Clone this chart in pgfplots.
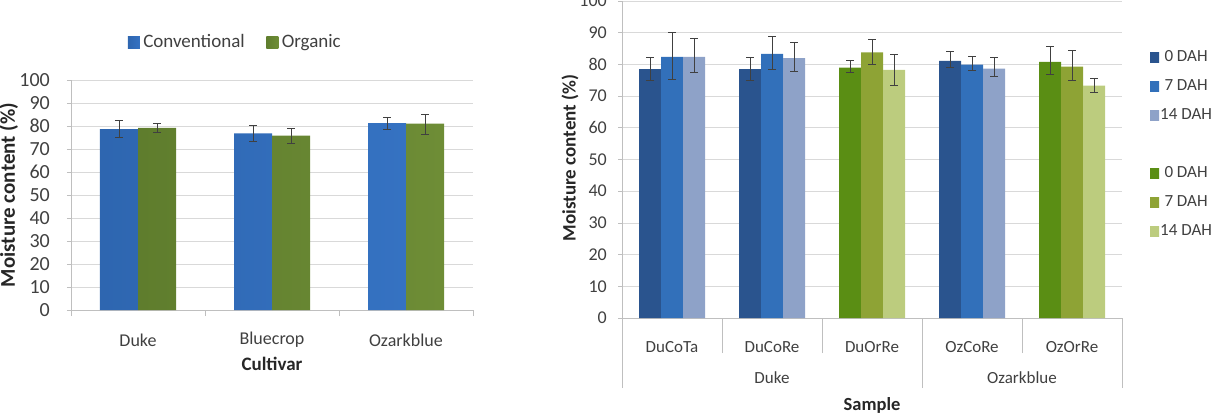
\documentclass[border=0pt]{standalone}
\usepackage{pgfplots}
\pgfplotsset{compat=1.18}
\usepackage{pgfplotstable}
\usepackage{fontspec}
\setmainfont{Carlito}

\definecolor{txt}{HTML}{404040}
\definecolor{axisgray}{HTML}{BFBFBF}
\definecolor{gridgray}{HTML}{D9D9D9}
% left chart
\definecolor{cvL}{HTML}{2E66B0}\definecolor{cvM}{HTML}{4A8DE0}\definecolor{cvR}{HTML}{3572C2}
\definecolor{orL}{HTML}{5F7D2D}\definecolor{orM}{HTML}{86A646}\definecolor{orR}{HTML}{6E8D36}
% right chart
\definecolor{bA}{HTML}{2A548E}\definecolor{bAm}{HTML}{3567A8}
\definecolor{bB}{HTML}{3270BA}\definecolor{bBm}{HTML}{4286D6}
\definecolor{bC}{HTML}{8EA2C8}\definecolor{bCm}{HTML}{AABCDD}
\definecolor{gA}{HTML}{5A8E14}\definecolor{gAm}{HTML}{6EAA1C}
\definecolor{gB}{HTML}{8EA335}\definecolor{gBm}{HTML}{A8BE44}
\definecolor{gC}{HTML}{BCCC7E}\definecolor{gCm}{HTML}{D4E297}

% cultivar, x, mean, error plus, error minus
\pgfplotstableread{
x y ep em
0 78.6 3.7 3.7
1 76.8 3.6 3.6
2 81.2 2.4 2.5
}\conv
\pgfplotstableread{
x y ep em
0 79.2 2.0 2.1
1 75.8 3.3 3.3
2 81.0 4.2 4.5
}\orga

% right chart: x = sample (0 DuCoTa, 1 DuCoRe, 2 DuOrRe, 3 OzCoRe, 4 OzOrRe)
\pgfplotstableread{
x y ep em
0 78.5 3.7 3.6
1 78.5 3.7 3.4
3 81.1 2.9 2.1
}\coA
\pgfplotstableread{
x y ep em
0 82.4 7.6 7.0
1 83.3 5.5 5.0
3 79.9 2.5 1.9
}\coB
\pgfplotstableread{
x y ep em
0 82.4 5.9 4.9
1 82.0 4.9 4.3
3 78.7 3.5 2.3
}\coC
\pgfplotstableread{
x y ep em
2 79.0 2.4 1.5
4 80.8 5.0 4.0
}\orA
\pgfplotstableread{
x y ep em
2 83.8 4.0 3.7
4 79.3 5.2 4.2
}\orB
\pgfplotstableread{
x y ep em
2 78.3 4.9 4.8
4 73.3 2.3 2.1
}\orC

\tikzset{sepline/.style={draw=axisgray, line width=0.8pt}}
\pgfplotsset{
  xlchart/.style={
    scale only axis, anchor=south west,
    ybar, ymin=0, ymax=100, ytick={0,10,...,100},
    axis x line*=bottom, axis y line*=left,
    axis line style={draw=axisgray, line width=0.8pt},
    ymajorgrids, grid style={draw=gridgray, line width=0.8pt},
    tick align=outside, major tick length=4pt,
    major tick style={draw=axisgray, line width=0.8pt},
    major x tick style={draw=none},
    /pgf/number format/assume math mode=true,
    tick label style={color=txt},
    yticklabel style={inner sep=0pt},
    label style={font=\bfseries, color=black!85},
    error bars/y dir=both, error bars/y explicit,
    error bars/error bar style={color=black!75, line width=0.6pt},
    error bars/error mark options={rotate=90, mark size=4pt, line width=0.6pt, color=black!75},
    legend image code/.code={\path[##1, draw=none] (0pt,-6pt) rectangle (12pt,6pt);},
    every axis plot/.append style={draw=none},
  },
}

\begin{document}
\begin{tikzpicture}
\useasboundingbox (0,0) rectangle (1215pt,418pt);

% ---------------- left: cultivar ----------------
\begin{axis}[xlchart,
  at={(71pt,108pt)}, width=402pt, height=230pt,
  bar width=38pt,
  xmin=-0.5, xmax=2.5,
  xtick={0,1,2}, xticklabels={Duke,Bluecrop,Ozarkblue},
  yticklabel style={font=\fontsize{20}{22}\selectfont, xshift=-17pt},
  xticklabel style={font=\fontsize{18}{20}\selectfont, anchor=center, yshift=-26pt},
  xlabel={Cultivar},
  xlabel style={font=\fontsize{19}{22}\selectfont\bfseries, at={(axis description cs:0.5,0)}, anchor=center, yshift=-54pt},
  ylabel={Moisture content (\%)},
  ylabel style={font=\fontsize{21}{24}\selectfont\bfseries, at={(axis description cs:-0.155,0.5)}, anchor=center},
  legend columns=2,
  legend style={at={(0.408,1.165)}, anchor=center, draw=none, fill=none,
    font=\fontsize{19}{22}\selectfont, text=txt,
    nodes={inner sep=1.5pt},
    /tikz/every odd column/.append style={column sep=2pt},
    /tikz/every even column/.append style={column sep=20pt}},
  clip=false,
]
\addplot[bar shift=-19pt, left color=cvL, middle color=cvM, right color=cvR]
  table[x=x, y=y, y error plus=ep, y error minus=em] {\conv};
\addlegendentry{Conventional}
\addplot[bar shift=19pt, left color=orL, middle color=orM, right color=orR]
  table[x=x, y=y, y error plus=ep, y error minus=em] {\orga};
\addlegendentry{Organic}
% category boundary marks below the axis
\draw[sepline] ([yshift=-6pt]axis cs:-0.5,0) -- (axis cs:-0.5,0);
\draw[sepline] ([yshift=-6pt]axis cs:0.5,0) -- (axis cs:0.5,0);
\draw[sepline] ([yshift=-6pt]axis cs:1.5,0) -- (axis cs:1.5,0);
\draw[sepline] ([yshift=-6pt]axis cs:2.5,0) -- (axis cs:2.5,0);
\end{axis}

% ---------------- right: sample ----------------
\begin{axis}[xlchart,
  at={(622pt,100pt)}, width=500pt, height=317pt,
  bar width=22pt,
  xmin=-0.5, xmax=4.5,
  xtick={0,1,2,3,4}, xticklabels={DuCoTa,DuCoRe,DuOrRe,OzCoRe,OzOrRe},
  yticklabel style={font=\fontsize{18}{20}\selectfont, xshift=-11pt},
  xticklabel style={font=\fontsize{17}{20}\selectfont, anchor=center, yshift=-25pt},
  xlabel={Sample},
  xlabel style={font=\fontsize{18.5}{22}\selectfont\bfseries, at={(axis description cs:0.5,0)}, anchor=center, yshift=-87pt},
  ylabel={Moisture content (\%)},
  ylabel style={font=\fontsize{19}{22}\selectfont\bfseries, at={(axis description cs:-0.104,0.505)}, anchor=center},
  legend style={at={(1.05,0.856)}, anchor=north west, draw=none, fill=none,
    font=\fontsize{17}{20}\selectfont, text=txt,
    nodes={inner sep=0pt, text height=13pt, text depth=4pt},
    row sep=12pt,
    /tikz/every odd column/.append style={column sep=1pt}},
  legend image code/.code={\path[#1, draw=none] (0pt,-5pt) rectangle (9pt,5pt);},
  clip=false,
]
\addplot[bar shift=-22pt, left color=bA, middle color=bAm, right color=bA]
  table[x=x, y=y, y error plus=ep, y error minus=em] {\coA};
\addlegendentry{0 DAH}
\addplot[bar shift=0pt, left color=bB, middle color=bBm, right color=bB]
  table[x=x, y=y, y error plus=ep, y error minus=em] {\coB};
\addlegendentry{7 DAH}
\addplot[bar shift=22pt, left color=bC, middle color=bCm, right color=bC]
  table[x=x, y=y, y error plus=ep, y error minus=em] {\coC};
\addlegendentry{14 DAH}
\addlegendimage{empty legend}
\addlegendentry{}
\addplot[bar shift=-22pt, left color=gA, middle color=gAm, right color=gA]
  table[x=x, y=y, y error plus=ep, y error minus=em] {\orA};
\addlegendentry{0 DAH}
\addplot[bar shift=0pt, left color=gB, middle color=gBm, right color=gB]
  table[x=x, y=y, y error plus=ep, y error minus=em] {\orB};
\addlegendentry{7 DAH}
\addplot[bar shift=22pt, left color=gC, middle color=gCm, right color=gC]
  table[x=x, y=y, y error plus=ep, y error minus=em] {\orC};
\addlegendentry{14 DAH}
% sample separators (short) and cultivar separators (long)
\draw[sepline] ([yshift=-35pt]axis cs:0.5,0) -- (axis cs:0.5,0);
\draw[sepline] ([yshift=-35pt]axis cs:1.5,0) -- (axis cs:1.5,0);
\draw[sepline] ([yshift=-35pt]axis cs:3.5,0) -- (axis cs:3.5,0);
\draw[sepline] ([yshift=-70pt]axis cs:-0.5,0) -- (axis cs:-0.5,0);
\draw[sepline] ([yshift=-70pt]axis cs:2.5,0) -- (axis cs:2.5,0);
\draw[sepline] ([yshift=-70pt]axis cs:4.5,0) -- (axis cs:4.5,0);
\node[font=\fontsize{17}{20}\selectfont, text=txt] at ([yshift=-60pt]axis cs:1,0) {Duke};
\node[font=\fontsize{17}{20}\selectfont, text=txt] at ([yshift=-60pt]axis cs:3.5,0) {Ozarkblue};
\end{axis}
\end{tikzpicture}
\end{document}
